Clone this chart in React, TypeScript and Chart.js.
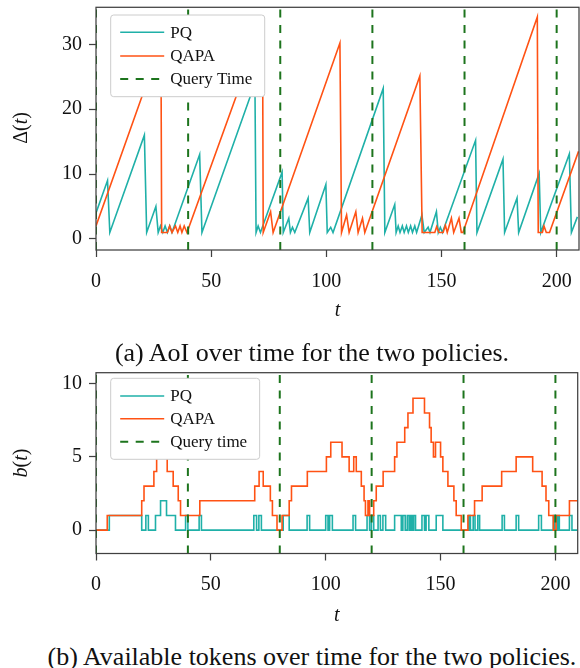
import React, { useEffect, useRef } from 'react';
import { Chart, registerables } from 'chart.js';

Chart.register(...registerables);

// ---------------- data ----------------
const queryTimes = [0, 40, 80, 120, 160, 200];
const timeTicks = [0, 50, 100, 150, 200];
const aoiTicks = [0, 10, 20, 30];
const tokenTicks = [0, 5, 10];
const legendLabelsA = ['PQ', 'QAPA', 'Query Time'];
const legendLabelsB = ['PQ', 'QAPA', 'Query time'];

// AoI vertices [t, Δ(t)]
const aoiPQ = [
  [0, 4], [5, 9], [6, 1], [21, 16], [22, 1], [26, 5], [27, 1], [28, 2], [29, 1], [30, 2], [31, 1], [32, 2], [33, 1],
  [45, 13], [46, 1], [69, 24], [69.5, 1], [70.4, 2], [71.4, 1], [80.8, 10.3], [81.3, 1], [83.7, 3.2], [84.4, 1],
  [85.3, 1.8], [86.3, 1], [92.1, 6.3], [92.8, 1], [99.8, 8.4], [100.4, 1], [101.9, 1.8], [102.9, 1],
  [124.7, 23.2], [125.4, 1], [129.7, 5.3], [130.3, 1], [131.2, 2], [132, 1], [133, 2], [133.8, 1], [134.8, 2],
  [135.6, 1], [136.6, 2], [137.4, 1], [138.4, 2], [139.2, 1], [141.5, 3.7], [142.5, 1], [144.2, 1.8], [145, 1],
  [147.8, 4.2], [148.6, 1], [149.5, 1.8], [150.4, 1], [164.8, 15.2], [165.4, 1], [176.7, 12.3], [177.4, 1],
  [182.8, 6.3], [183.5, 1], [192.4, 10.1], [193.1, 1], [205.5, 13.1], [206.4, 1], [209, 3.4],
];
const aoiQAPA = [
  [0, 2], [28.2, 30.2], [28.5, 1], [31, 1], [32, 2], [33, 1], [34.5, 2], [35.5, 1], [36.5, 2], [37.3, 1],
  [38.3, 2], [39.5, 1], [72.3, 33.2], [72.6, 1], [75.8, 4.2], [76.9, 1], [105.9, 30.2], [106.6, 1],
  [108.8, 3.7], [109.9, 1], [112.8, 4.2], [113.8, 1], [115.7, 3.2], [116.7, 1], [140.6, 25.1], [141.6, 1],
  [147.1, 1], [147.9, 1.9], [148.9, 1], [150.7, 1], [151.7, 2.1], [152.5, 1], [154.3, 3.2], [155.3, 1],
  [157.6, 3.2], [158.6, 1], [159.3, 1], [191.6, 34.2], [192, 1], [193.8, 1], [194.5, 2], [195.5, 1],
  [196.9, 1], [209.5, 13.5],
];

// tokens, step changes [t, b(t) from t on]
const tokenPQ = [
  [0, 0], [5.8, 1], [19.9, 0], [21.7, 1], [22.8, 0], [25.9, 1], [28.1, 2], [30.7, 1], [34.6, 0], [39, 1], [40, 0],
  [44.9, 1], [45.9, 0], [68.7, 1], [69.9, 0], [70.9, 1], [72, 0], [81.5, 1], [84.1, 0], [91.9, 1], [93, 0],
  [100, 1], [101, 0], [101.7, 1], [102.9, 0], [111.9, 1], [113, 0], [118, 1], [119.1, 0], [119.9, 1], [120.9, 0],
  [122.8, 1], [123.8, 0], [124.9, 1], [126.1, 0], [130, 1], [132.9, 0], [133.6, 1], [134.6, 0], [135.5, 1],
  [136.3, 0], [137, 1], [137.6, 0], [138.3, 1], [139.1, 0], [141.9, 1], [143, 0], [143.7, 1], [144.9, 0],
  [148.1, 1], [151, 0], [162.3, 1], [163, 0], [164.2, 1], [165, 0], [166.2, 1], [167, 0], [176.8, 1], [177.8, 0],
  [182.9, 1], [184, 0], [192.7, 1], [193.9, 0], [199.1, 1], [199.8, 0], [201, 1], [201.7, 0], [206.1, 1],
  [207.2, 0], [209.5, 0],
];
const tokenQAPA = [
  [0, 0], [4.9, 1], [19.9, 2], [20.9, 3], [25.2, 4], [26.4, 5], [27.1, 6], [29.5, 5], [31, 4], [33.6, 3],
  [35.8, 2], [36.8, 1], [45.2, 2], [69.1, 3], [71, 4], [72.8, 3], [75.9, 2], [76.8, 1], [78.8, 0], [81, 1],
  [84.1, 2], [85.1, 3], [92, 4], [100.3, 5], [102.2, 6], [107.1, 5], [110.2, 4], [112.2, 5], [113.3, 4],
  [115.5, 3], [116.7, 2], [117.3, 1], [118.4, 2], [119.1, 1], [120.9, 2], [122, 3], [125, 4], [130, 5], [131, 6],
  [134.4, 7], [135.8, 8], [138, 9], [143, 8], [145.2, 7], [145.9, 6], [146.9, 5], [147.8, 6], [150, 5], [151, 4],
  [153.2, 3], [155.8, 2], [156.8, 1], [159, 0], [161.9, 1], [164.8, 2], [168.1, 3], [176.6, 4], [182.9, 5],
  [190.1, 4], [194.2, 3], [195.9, 2], [197.1, 1], [199.1, 0], [200.3, 1], [206.1, 2], [209.5, 2],
];

// ---------------- styles ----------------
const TEAL = '#1fb0a8';
const ORANGE = '#ff5214';
const GREEN = '#1d741d';
const AXIS = '#404040';
const SERIF = '"Liberation Serif", "DejaVu Serif", serif';

type Cfg = {
  width: number;
  height: number;
  padTop: number;
  padRight: number;
  xHeight: number;
  yMin: number;
  yMax: number;
  yTicks: number[];
  stepped: boolean;
  pq: number[][];
  qapa: number[][];
  legend: string[];
  legendDy: number;
  legendH: number;
  rowDy: number[];
  yLabel: string;
  yLabelCy: number;
  xTitleY: number;
  xTickPad: number;
};

function decorPlugin(c: Cfg) {
  return {
    id: 'decor',
    afterDatasetsDraw(chart: any) {
      const ctx = chart.ctx as CanvasRenderingContext2D;
      const a = chart.chartArea;
      ctx.save();
      ctx.font = `17px ${SERIF}`;
      const bx = a.left + 14.7;
      const by = a.top + c.legendDy;
      const textX = bx + 59.5;
      const maxW = Math.max(...c.legend.map((l) => ctx.measureText(l).width));
      const bw = textX + maxW + 12.5 - bx;
      ctx.beginPath();
      (ctx as any).roundRect(bx, by, bw, c.legendH, 3);
      ctx.fillStyle = '#ffffff';
      ctx.fill();
      ctx.strokeStyle = '#cccccc';
      ctx.lineWidth = 1;
      ctx.stroke();
      const cols = [TEAL, ORANGE, GREEN];
      c.legend.forEach((lab, i) => {
        const yy = by + c.rowDy[i];
        ctx.beginPath();
        ctx.setLineDash(i === 2 ? [8, 7.5] : []);
        ctx.strokeStyle = cols[i];
        ctx.lineWidth = i === 2 ? 2 : 1.6;
        ctx.moveTo(bx + 9.5, yy);
        ctx.lineTo(bx + 53.5, yy);
        ctx.stroke();
        ctx.setLineDash([]);
        ctx.fillStyle = '#111';
        ctx.textAlign = 'left';
        ctx.textBaseline = 'middle';
        ctx.fillText(lab, textX, yy + 1);
      });
      ctx.restore();
    },
    afterDraw(chart: any) {
      const ctx = chart.ctx as CanvasRenderingContext2D;
      const a = chart.chartArea;
      ctx.save();
      ctx.strokeStyle = AXIS;
      ctx.lineWidth = 1.25;
      ctx.strokeRect(a.left, a.top, a.right - a.left, a.bottom - a.top);
      // x title
      ctx.fillStyle = '#111';
      ctx.font = `italic 20px ${SERIF}`;
      ctx.textAlign = 'center';
      ctx.textBaseline = 'middle';
      ctx.fillText('t', (a.left + a.right) / 2, c.xTitleY);
      // y title  e.g. "Δ(t)"
      ctx.translate(22, c.yLabelCy);
      ctx.rotate(-Math.PI / 2);
      const parts: [string, boolean][] = [
        [c.yLabel.slice(0, c.yLabel.length - 3), c.yLabel === 'b(t)'],
        ['(', false],
        ['t', true],
        [')', false],
      ];
      const fontOf = (it: boolean) => `${it ? 'italic ' : ''}20px ${SERIF}`;
      let total = 0;
      parts.forEach(([s, it]) => {
        ctx.font = fontOf(it);
        total += ctx.measureText(s).width;
      });
      let x = -total / 2;
      ctx.textAlign = 'left';
      parts.forEach(([s, it]) => {
        ctx.font = fontOf(it);
        ctx.fillText(s, x, 0);
        x += ctx.measureText(s).width;
      });
      ctx.restore();
    },
  };
}

function Panel({ c, top }: { c: Cfg; top: number }) {
  const ref = useRef<HTMLCanvasElement | null>(null);
  useEffect(() => {
    if (!ref.current) return;
    const queryData: any[] = [];
    queryTimes.forEach((q) => {
      queryData.push({ x: q, y: c.yMin }, { x: q, y: c.yMax }, { x: q, y: null });
    });
    const toPts = (arr: number[][]) => arr.map(([x, y]) => ({ x, y }));
    const chart = new Chart(ref.current, {
      type: 'line',
      data: {
        datasets: [
          {
            label: 'Query',
            data: queryData,
            borderColor: GREEN,
            borderWidth: 2,
            borderDash: [8, 7.5],
            pointRadius: 0,
            spanGaps: false,
            order: 0,
          },
          {
            label: 'PQ',
            data: toPts(c.pq),
            borderColor: TEAL,
            borderWidth: 1.6,
            pointRadius: 0,
            stepped: c.stepped,
            order: 2,
          },
          {
            label: 'QAPA',
            data: toPts(c.qapa),
            borderColor: ORANGE,
            borderWidth: 1.6,
            pointRadius: 0,
            stepped: c.stepped,
            order: 1,
          },
        ] as any,
      },
      options: {
        animation: false,
        responsive: false,
        devicePixelRatio: 1,
        events: [],
        layout: { padding: { top: c.padTop, right: c.padRight, left: 0, bottom: 0 } },
        plugins: { legend: { display: false }, tooltip: { enabled: false }, title: { display: false } },
        scales: {
          x: {
            type: 'linear',
            min: 0,
            max: 209.7,
            afterBuildTicks: (s: any) => {
              s.ticks = timeTicks.map((v) => ({ value: v }));
            },
            afterFit: (s: any) => {
              s.height = c.xHeight;
              s.paddingLeft = 0;
              s.paddingRight = 0;
            },
            ticks: {
              autoSkip: false,
              maxRotation: 0,
              includeBounds: false,
              padding: c.xTickPad,
              color: '#111',
              font: { family: SERIF, size: 20 },
            },
            grid: { drawOnChartArea: false, drawTicks: true, tickLength: 7, tickColor: AXIS, tickWidth: 1.25 },
            border: { display: false },
          },
          y: {
            type: 'linear',
            min: c.yMin,
            max: c.yMax,
            afterBuildTicks: (s: any) => {
              s.ticks = c.yTicks.map((v) => ({ value: v }));
            },
            afterFit: (s: any) => {
              s.width = 96;
              s.paddingTop = 0;
              s.paddingBottom = 0;
            },
            ticks: {
              autoSkip: false,
              includeBounds: false,
              padding: 7,
              color: '#111',
              font: { family: SERIF, size: 20 },
            },
            grid: { drawOnChartArea: false, drawTicks: true, tickLength: 7, tickColor: AXIS, tickWidth: 1.25 },
            border: { display: false },
          },
        },
      } as any,
      plugins: [decorPlugin(c)],
    });
    return () => chart.destroy();
  }, [c]);
  return (
    <canvas
      ref={ref}
      width={c.width}
      height={c.height}
      style={{ position: 'absolute', left: 0, top, width: c.width, height: c.height }}
    />
  );
}

const cfgA: Cfg = {
  width: 580,
  height: 330,
  padTop: 7.3,
  padRight: 1,
  xHeight: 80,
  yMin: -1.7,
  yMax: 35.7,
  yTicks: aoiTicks,
  stepped: false,
  pq: aoiPQ,
  qapa: aoiQAPA,
  legend: legendLabelsA,
  legendDy: 7.7,
  legendH: 81.7,
  rowDy: [17.3, 41, 64],
  yLabel: 'Δ(t)',
  yLabelCy: 128,
  xTitleY: 311,
  xTickPad: 13,
};

const cfgB: Cfg = {
  width: 580,
  height: 300,
  padTop: 37.7,
  padRight: 2.3,
  xHeight: 81.5,
  yMin: -1.6,
  yMax: 10.75,
  yTicks: tokenTicks,
  stepped: true,
  pq: tokenPQ,
  qapa: tokenQAPA,
  legend: legendLabelsB,
  legendDy: 5.6,
  legendH: 81,
  rowDy: [17.7, 40.4, 63.4],
  yLabel: 'b(t)',
  yLabelCy: 128,
  xTitleY: 281,
  xTickPad: 12,
};

export default function App() {
  const cap: React.CSSProperties = {
    position: 'absolute',
    left: 0,
    width: 624,
    textAlign: 'center',
    whiteSpace: 'nowrap',
    fontFamily: SERIF,
    fontSize: 26,
    lineHeight: '26px',
    color: '#111',
  };
  return (
    <div style={{ position: 'absolute', left: 0, top: 0, width: 580, height: 668, background: '#fff', overflow: 'hidden' }}>
      <Panel c={cfgA} top={0} />
      <Panel c={cfgB} top={335} />
      <div style={{ ...cap, top: 340 }}>(a) AoI over time for the two policies.</div>
      <div style={{ ...cap, top: 644 }}>(b) Available tokens over time for the two policies.</div>
    </div>
  );
}
